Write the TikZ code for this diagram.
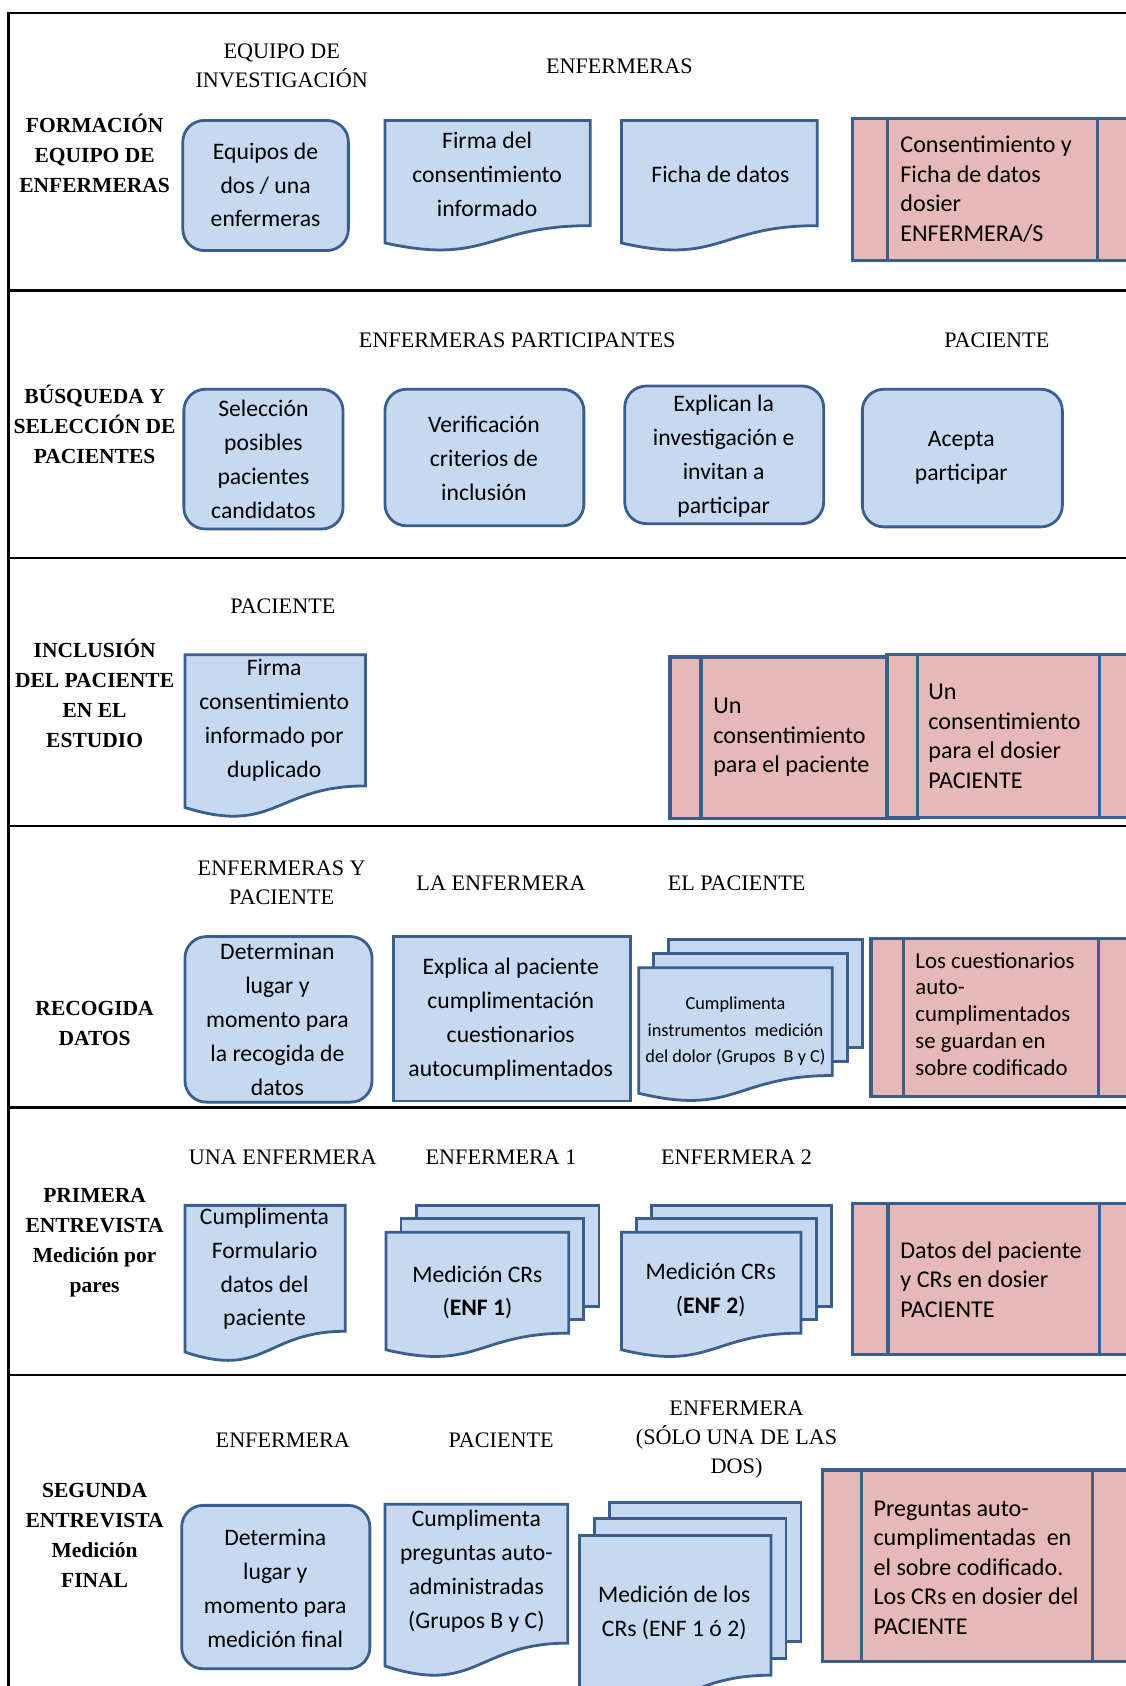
\documentclass[tikz,border=0pt]{standalone}
\usepackage{fontspec}
\setmainfont{Liberation Serif}
\newfontfamily\calfont{Carlito}
\usetikzlibrary{calc}

\definecolor{bfill}{HTML}{C6D9F1}
\definecolor{bline}{HTML}{3A5F8E}
\definecolor{pfill}{HTML}{E6B8B7}

\tikzset{
  bluebox/.style={fill=bfill,draw=bline,line width=1.3pt},
  pinkbox/.style={fill=pfill,draw=bline,line width=1.5pt},
  frame/.style={line width=1.1pt},
  boxtext/.style={align=center,inner sep=0pt,font=\calfont\fontsize{11}{15.75}\selectfont},
  smalltext/.style={align=center,inner sep=0pt,font=\calfont\fontsize{8.5}{12.5}\selectfont},
  pinktext/.style={align=left,anchor=west,inner sep=0pt,font=\calfont\fontsize{11.2}{13.75}\selectfont},
  head/.style={align=center,inner sep=0pt,font=\fontsize{10.3}{13.5}\selectfont},
  rowlabel/.style={align=center,inner sep=0pt,font=\bfseries\fontsize{10}{14}\selectfont}
}

\newcommand{\docshape}[4]{%
  \filldraw[bluebox] (#1,#2) -- (#1+#3,#2) -- (#1+#3,#2+0.802*#4)
    .. controls (#1+0.5*#3,#2+0.802*#4) and (#1+0.5*#3,#2+1.1075*#4) .. (#1,#2+0.934*#4) -- cycle;}
\newcommand{\multidoc}[5]{%
  \filldraw[bluebox] (#1+28,#2-2*#5) rectangle (#1+28+#3,#2-2*#5+0.802*#4);
  \filldraw[bluebox] (#1+14,#2-#5) rectangle (#1+14+#3,#2-#5+0.802*#4);
  \docshape{#1}{#2}{#3}{#4}}
\newcommand{\procbox}[4]{%
  \filldraw[pinkbox] (#1,#2) rectangle (#3,#4);
  \draw[pinkbox] ({#1+0.125*(#3-#1)},#2) -- ({#1+0.125*(#3-#1)},#4);
  \draw[pinkbox] ({#3-0.125*(#3-#1)},#2) -- ({#3-0.125*(#3-#1)},#4);}

\begin{document}
\begin{tikzpicture}[x=0.5pt,y=-0.5pt]
  \clip (0,0) rectangle (1047,1568);
  \fill[white] (0,0) rectangle (1047,1568);
  \draw[frame] (1047,12) -- (8,12) -- (8,1568);
  \foreach \yy in {270,519,768,1030,1279}
    \draw[frame] (8,\yy) -- (1047,\yy);

  % formacion
  \node[rowlabel] (formacion) at (88,143) {FORMACIÓN\\EQUIPO DE\\ENFERMERAS};
  \node[head] (hinvest) at (262,61) {EQUIPO DE\\INVESTIGACIÓN};
  \node[head] (henf) at (576,62) {ENFERMERAS};
  \filldraw[bluebox,rounded corners=10pt] (170,112) rectangle (324,233);
  \node[boxtext] (equipos) at (247,172) {Equipos de\\dos / una\\enfermeras};
  \docshape{358}{112}{191}{122}
  \node[boxtext] (firma) at (453,162) {Firma del\\consentimiento\\informado};
  \docshape{578}{112}{182}{122}
  \node[boxtext] (ficha) at (670,162) {Ficha de datos};
  \procbox{793}{110}{1053}{242}
  \node[pinktext] (dosierenf) at (837,176) {Consentimiento y\\Ficha de datos\\dosier\\ENFERMERA/S};

  % busqueda
  \node[rowlabel] (busqueda) at (88,395) {BÚSQUEDA Y\\SELECCIÓN DE\\PACIENTES};
  \node[head] (hpart) at (481,316) {ENFERMERAS PARTICIPANTES};
  \node[head] (hpac) at (927,316) {PACIENTE};
  \filldraw[bluebox,rounded corners=10pt] (171,362) rectangle (319,492);
  \node[boxtext] (seleccion) at (245,427) {Selección\\posibles\\pacientes\\candidatos};
  \filldraw[bluebox,rounded corners=10pt] (358,362) rectangle (543,489);
  \node[boxtext] (verifica) at (450,426) {Verificación\\criterios de\\inclusión};
  \filldraw[bluebox,rounded corners=10pt] (581,359) rectangle (766,487);
  \node[boxtext] (explican) at (673,424) {Explican la\\investigación e\\invitan a\\participar};
  \filldraw[bluebox,rounded corners=10pt] (802,362) rectangle (988,490);
  \node[boxtext] (acepta) at (894,426) {Acepta\\participar};

  % inclusion
  \node[rowlabel] (inclusion) at (88,645) {INCLUSIÓN\\DEL PACIENTE\\EN EL\\ESTUDIO};
  \node[head] (hpac2) at (263,564) {PACIENTE};
  \docshape{172}{609}{168}{152}
  \node[boxtext] (duplicado) at (255,670) {Firma\\consentimiento\\informado por\\duplicado};
  \procbox{623}{611}{854}{761}
  \node[pinktext] (unpac) at (663,686) {Un\\consentimiento\\para el paciente};
  \procbox{825}{609}{1051}{760}
  \node[pinktext] (undosier) at (863,685) {Un\\consentimiento\\para el dosier\\PACIENTE};

  % recogida
  \node[rowlabel] (recogida) at (88,952) {RECOGIDA\\DATOS};
  \node[head] (hambos) at (262,821) {ENFERMERAS Y\\PACIENTE};
  \node[head] (hlaenf) at (466,821) {LA ENFERMERA};
  \node[head] (helpac) at (685,821) {EL PACIENTE};
  \filldraw[bluebox,rounded corners=10pt] (172,871) rectangle (346,1025);
  \node[boxtext] (determinan) at (258,948) {Determinan\\lugar y\\momento para\\la recogida de\\datos};
  \filldraw[bluebox] (366,871) rectangle (586,1024);
  \node[boxtext] (explica) at (475,948) {Explica al paciente\\cumplimentación\\cuestionarios\\autocumplimentados};
  \multidoc{594}{900}{180}{125}{13}
  \node[smalltext] (instrum) at (684,959) {Cumplimenta\\instrumentos\ \ medición\\del dolor (Grupos\ \ B y C)};
  \procbox{810}{873}{1052}{1020}
  \node[pinktext,font=\calfont\fontsize{10.6}{12.5}\selectfont] (sobre) at (851,943) {Los cuestionarios\\auto-\\cumplimentados\\se guardan en\\sobre codificado};

  % primera entrevista
  \node[rowlabel] (primera) at (88,1156) {PRIMERA\\ENTREVISTA\\Medición por\\pares};
  \node[head] (huna) at (263,1076) {UNA ENFERMERA};
  \node[head] (henfa) at (466,1076) {ENFERMERA 1};
  \node[head] (henfb) at (685,1076) {ENFERMERA 2};
  \docshape{172}{1121}{149}{146}
  \node[boxtext] (formulario) at (246,1180) {Cumplimenta\\Formulario\\datos del\\paciente};
  \multidoc{359}{1146}{170}{117}{12.5}
  \node[boxtext] (crsa) at (444,1202) {Medición CRs\\(\textbf{ENF 1})};
  \multidoc{578}{1146}{167}{117}{12.5}
  \node[boxtext] (crsb) at (661,1200) {Medición CRs\\(\textbf{ENF 2})};
  \procbox{793}{1119}{1055}{1260}
  \node[pinktext] (datospac) at (837,1190) {Datos del paciente\\y CRs en dosier\\PACIENTE};

  % segunda entrevista
  \node[rowlabel] (segunda) at (88,1428) {SEGUNDA\\ENTREVISTA\\Medición\\FINAL};
  \node[head] (henf3) at (263,1339) {ENFERMERA};
  \node[head] (hpac3) at (466,1339) {PACIENTE};
  \node[head] (hsolo) at (685,1339) {ENFERMERA\\(SÓLO UNA DE LAS\\DOS)};
  \filldraw[bluebox,rounded corners=10pt] (169,1400) rectangle (344,1552);
  \node[boxtext] (determina) at (256,1477) {Determina\\lugar y\\momento para\\medición final};
  \docshape{358}{1399}{170}{161}
  \node[boxtext] (preguntas) at (443,1461) {Cumplimenta\\preguntas auto-\\administradas\\(Grupos B y C)};
  \multidoc{539}{1428}{178}{162}{15.5}
  \node[boxtext] (crsfinal) at (627,1500) {Medición de los\\CRs (ENF 1 ó 2)};
  \procbox{765}{1367}{1052}{1545}
  \node[pinktext] (autocum) at (812,1458) {Preguntas auto-\\cumplimentadas\ \ en\\el sobre codificado.\\Los CRs en dosier del\\PACIENTE};
\end{tikzpicture}
\end{document}
